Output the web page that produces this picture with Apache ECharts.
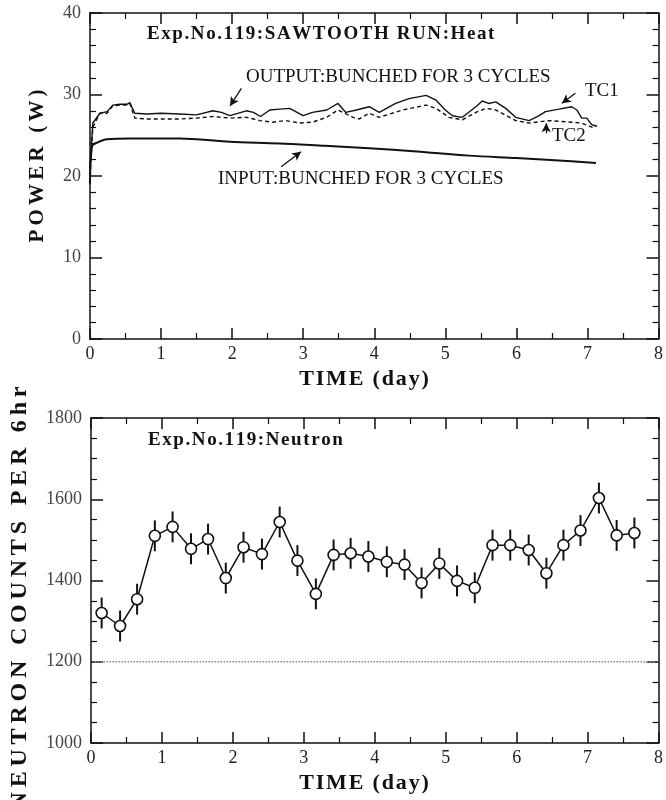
<!DOCTYPE html>
<html>
<head>
<meta charset="utf-8">
<script src="https://cdn.jsdelivr.net/npm/echarts@6/dist/echarts.min.js"></script>
<style>
  html, body { margin: 0; padding: 0; background: #fff; }
  #chart { width: 666px; height: 800px; }
</style>
</head>
<body>
<div id="chart"></div>
<script>
// top panel: power (W) vs time (day)
var tc1 = [[0,21],[0.04,26.5],[0.14,27.7],[0.24,27.9],[0.32,28.7],[0.42,28.8],[0.52,28.8],[0.56,29.0],[0.63,27.7],[0.8,27.6],[1.0,27.7],[1.26,27.6],[1.5,27.5],[1.73,28.0],[1.85,27.8],[1.97,27.4],[2.2,28.0],[2.3,27.8],[2.4,27.3],[2.53,28.1],[2.67,28.2],[2.81,28.3],[3.0,27.4],[3.13,27.8],[3.33,28.1],[3.49,28.9],[3.6,27.8],[3.75,28.1],[3.93,28.5],[4.07,27.8],[4.3,28.9],[4.49,29.5],[4.73,29.9],[4.87,29.3],[5.0,28.1],[5.1,27.4],[5.24,27.2],[5.43,28.5],[5.52,29.2],[5.61,28.9],[5.71,29.1],[5.85,28.3],[5.99,27.2],[6.18,26.8],[6.32,27.4],[6.41,27.9],[6.6,28.2],[6.78,28.5],[6.85,28.1],[6.92,27.1],[6.99,27.1],[7.06,26.3],[7.13,26.1]];
var tc2 = [[0,20],[0.04,26.0],[0.14,27.7],[0.24,27.7],[0.32,28.6],[0.42,28.7],[0.52,28.7],[0.56,28.9],[0.63,27.1],[0.8,27.0],[1.0,27.0],[1.26,27.0],[1.5,27.1],[1.73,27.3],[1.97,27.1],[2.2,27.2],[2.39,26.8],[2.57,26.6],[2.75,26.8],[2.95,26.5],[3.13,26.6],[3.33,27.2],[3.49,28.1],[3.7,27.2],[3.79,27.0],[3.93,27.7],[4.07,27.2],[4.4,28.1],[4.73,28.7],[4.87,28.3],[5.05,27.2],[5.24,26.9],[5.43,27.8],[5.57,28.3],[5.71,28.1],[5.99,26.8],[6.18,26.5],[6.46,26.8],[6.78,26.6],[6.92,26.5],[7.06,26.0],[7.13,26.2]];
var input = [[0,19],[0.03,23.7],[0.1,24.1],[0.24,24.5],[0.56,24.6],[1.26,24.6],[1.97,24.2],[2.67,24.0],[3.3,23.7],[3.93,23.4],[4.6,23.0],[5.33,22.5],[6.0,22.2],[6.6,21.9],[7.12,21.6]];
// annotation arrows, [from, to] in data coords
var powerArrows = [
  [[2.13,30.76],[1.97,28.59]],
  [[2.69,21.14],[2.97,22.98]],
  [[6.83,30.15],[6.64,28.92]],
  [[6.42,25.24],[6.42,26.47]]
];

// bottom panel: neutron counts per 6hr
var nTimes = [0.15,0.41,0.65,0.90,1.15,1.41,1.65,1.90,2.15,2.41,2.66,2.91,3.17,3.42,3.66,3.91,4.17,4.42,4.66,4.91,5.16,5.41,5.66,5.91,6.17,6.42,6.66,6.90,7.16,7.41,7.66];
var nCounts = [1320,1288,1354,1510,1532,1478,1502,1406,1482,1465,1544,1449,1367,1463,1467,1459,1446,1439,1394,1442,1399,1382,1487,1487,1475,1418,1487,1523,1603,1511,1517];
var nErrs = [38,38,38,38,38,38,38,38,38,38,38,38,38,38,38,38,38,38,38,38,38,38,38,38,38,38,38,38,38,38,38];
var background = [[0.05,1200],[7.95,1200]];

var xTicks = ['0','1','2','3','4','5','6','7','8'];

var serif = 'Liberation Serif';
function spaced(s, sep) { return s.split('').join(sep || '\u2009'); }

var myChart = echarts.init(document.getElementById('chart'));

function xAxis(grid, pos, showLabel) {
  return {
    type: 'value', gridIndex: grid, position: pos, min: 0, max: 8, interval: 1,
    axisLine: { show: true, onZero: false, lineStyle: { color: '#111', width: 1.5 } },
    axisTick: { show: true, inside: true, length: 11, lineStyle: { color: '#111', width: 1.5 } },
    minorTick: { show: true, splitNumber: 2, length: 6, lineStyle: { color: '#111', width: 1.2 } },
    splitLine: { show: false },
    axisLabel: {
      show: showLabel, margin: 6, color: '#222', fontFamily: serif, fontSize: 18,
      formatter: function (v) { return xTicks[Math.round(v)]; }
    }
  };
}
function yAxis(grid, pos, min, max, interval, split, showLabel) {
  return {
    type: 'value', gridIndex: grid, position: pos, min: min, max: max, interval: interval,
    axisLine: { show: true, onZero: false, lineStyle: { color: '#111', width: 1.5 } },
    axisTick: { show: true, inside: true, length: 12, lineStyle: { color: '#111', width: 1.5 } },
    minorTick: { show: true, splitNumber: split, length: 6, lineStyle: { color: '#111', width: 1.2 } },
    splitLine: { show: false },
    axisLabel: {
      show: showLabel, margin: 9, color: '#444', fontFamily: serif, fontSize: 18,
      formatter: function (v) { return String(v); }
    }
  };
}

var option = {
  animation: false,
  backgroundColor: '#fff',
  grid: [
    { left: 90, right: 7, top: 13, height: 326 },
    { left: 91, right: 7, top: 418, height: 325 }
  ],
  xAxis: [
    xAxis(0, 'bottom', true), xAxis(0, 'top', false),
    xAxis(1, 'bottom', true), xAxis(1, 'top', false)
  ],
  yAxis: [
    yAxis(0, 'left', 0, 40, 10, 5, true), yAxis(0, 'right', 0, 40, 10, 5, false),
    yAxis(1, 'left', 1000, 1800, 200, 4, true), yAxis(1, 'right', 1000, 1800, 200, 4, false)
  ],
  series: [
    {
      name: 'INPUT', type: 'line', xAxisIndex: 0, yAxisIndex: 0, data: input,
      showSymbol: false, smooth: 0.3, lineStyle: { color: '#111', width: 2 },
      markLine: {
        silent: true, symbol: ['none', 'arrow'], symbolSize: [7, 9],
        label: { show: false }, lineStyle: { color: '#111', width: 1.3, type: 'solid' },
        data: powerArrows.map(function (a) { return [{ coord: a[0] }, { coord: a[1] }]; })
      }
    },
    {
      name: 'TC1', type: 'line', xAxisIndex: 0, yAxisIndex: 0, data: tc1,
      showSymbol: false, lineStyle: { color: '#111', width: 1.4 }
    },
    {
      name: 'TC2', type: 'line', xAxisIndex: 0, yAxisIndex: 0, data: tc2,
      showSymbol: false, lineStyle: { color: '#111', width: 1.4, type: [4, 3] }
    },
    {
      name: 'base', type: 'line', xAxisIndex: 2, yAxisIndex: 2, data: background,
      showSymbol: false, lineStyle: { color: '#888', width: 1.5, type: 'dotted' }
    },
    {
      name: 'err', type: 'custom', xAxisIndex: 2, yAxisIndex: 2,
      data: nTimes.map(function (t, i) { return [t, nCounts[i], nErrs[i]]; }),
      renderItem: function (params, api) {
        var hi = api.coord([api.value(0), api.value(1) + api.value(2)]);
        var lo = api.coord([api.value(0), api.value(1) - api.value(2)]);
        return {
          type: 'line',
          shape: { x1: hi[0], y1: hi[1], x2: lo[0], y2: lo[1] },
          style: { stroke: '#111', lineWidth: 2 }
        };
      },
      z: 1
    },
    {
      name: 'Neutron', type: 'line', xAxisIndex: 2, yAxisIndex: 2,
      data: nTimes.map(function (t, i) { return [t, nCounts[i]]; }),
      symbol: 'circle', symbolSize: 11, showAllSymbol: true,
      lineStyle: { color: '#111', width: 1.5 },
      itemStyle: { color: '#fff', borderColor: '#111', borderWidth: 1.6 },
      z: 3
    }
  ],
  graphic: [
    { type: 'text', left: 147, top: 25, style: { text: spaced('Exp.No.119:SAWTOOTH RUN:Heat', '\u200A'), font: 'bold 19px ' + serif, fill: '#111' } },
    { type: 'text', left: 246, top: 68, style: { text: 'OUTPUT:BUNCHED FOR 3 CYCLES', font: '19px ' + serif, fill: '#111' } },
    { type: 'text', left: 218, top: 170, style: { text: 'INPUT:BUNCHED FOR 3 CYCLES', font: '19px ' + serif, fill: '#111' } },
    { type: 'text', left: 585, top: 82, style: { text: 'TC1', font: '19px ' + serif, fill: '#111' } },
    { type: 'text', left: 552, top: 127, style: { text: 'TC2', font: '19px ' + serif, fill: '#111' } },
    { type: 'text', left: 148, top: 431, style: { text: spaced('Exp.No.119:Neutron', '\u200A'), font: 'bold 19px ' + serif, fill: '#111' } },
    { type: 'text', x: 364, y: 379, style: { text: spaced('TIME (day)', '\u200A'), font: 'bold 22px ' + serif, fill: '#111', align: 'center', verticalAlign: 'middle' } },
    { type: 'text', x: 364, y: 783, style: { text: spaced('TIME (day)', '\u200A'), font: 'bold 22px ' + serif, fill: '#111', align: 'center', verticalAlign: 'middle' } },
    { type: 'text', x: 38, y: 166, rotation: Math.PI / 2, style: { text: spaced('POWER (W)'), font: 'bold 21px ' + serif, fill: '#111', align: 'center', verticalAlign: 'middle' } },
    { type: 'text', x: 20, y: 598, rotation: Math.PI / 2, style: { text: spaced('NEUTRON COUNTS PER 6hr'), font: 'bold 24px ' + serif, fill: '#111', align: 'center', verticalAlign: 'middle' } }
  ]
};

myChart.setOption(option);
</script>
</body>
</html>
